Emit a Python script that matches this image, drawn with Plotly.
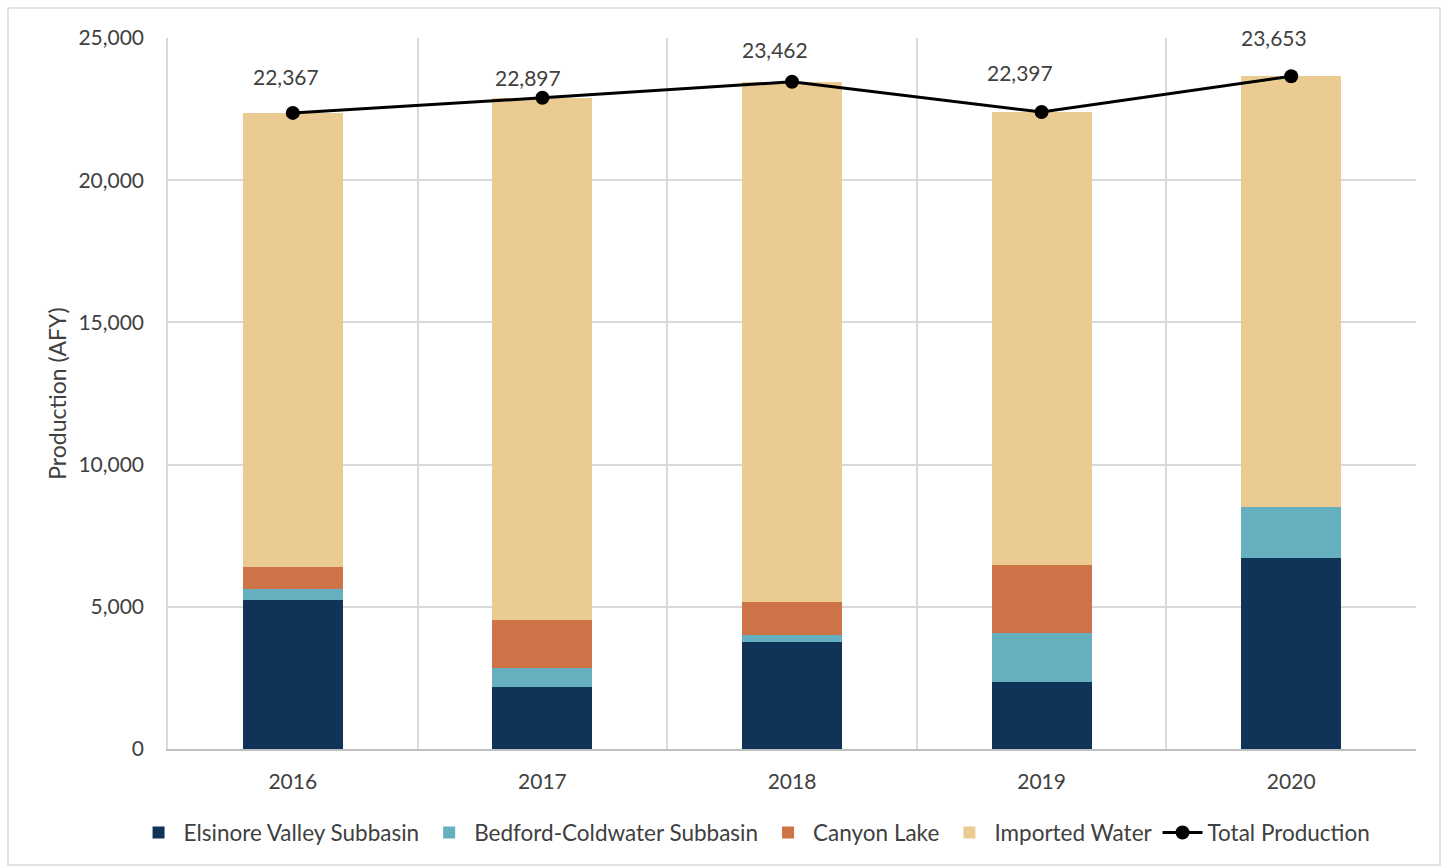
import plotly.graph_objects as go

years = ["2016", "2017", "2018", "2019", "2020"]
elsinore = [5240, 2180, 3770, 2356, 6726]
bedford = [375, 670, 240, 1712, 1794]
canyon = [795, 1700, 1160, 2400, 0]
total = [22367, 22897, 23462, 22397, 23653]
imported = [t - e - b - c for t, e, b, c in zip(total, elsinore, bedford, canyon)]

# label placement offsets (pixels) to mimic the original label layout
label_dx = [-7, -14, -17, -22, -17]
label_dy = [36, 20, 32, 40, 39]

FONT = "Lato, Carlito, Calibri, sans-serif"
TXT = "#404040"

fig = go.Figure()
for name, vals, col in [
    ("Elsinore Valley Subbasin", elsinore, "#0F3457"),
    ("Bedford-Coldwater Subbasin", bedford, "#66AFBF"),
    ("Canyon Lake", canyon, "#CE7347"),
    ("Imported Water", imported, "#EACB91"),
]:
    fig.add_trace(go.Bar(x=years, y=vals, name=name, marker=dict(color=col, line=dict(width=0)),
                         width=0.4))

fig.add_trace(go.Scatter(x=years, y=total, name="Total Production", mode="lines+markers",
                         line=dict(color="black", width=3),
                         marker=dict(color="black", size=14)))

for i, t in enumerate(total):
    fig.add_annotation(x=i, y=t, text=f"{t:,}", showarrow=False,
                       xshift=label_dx[i], yshift=label_dy[i],
                       font=dict(family=FONT, size=21, color=TXT))

fig.update_layout(
    width=1448, height=867,
    barmode="stack",
    paper_bgcolor="white", plot_bgcolor="white",
    margin=dict(l=168, r=32, t=38, b=118),
    font=dict(family=FONT, size=21, color=TXT),
    showlegend=True,
    legend=dict(orientation="h", x=0.47, xanchor="center", y=-0.118, yanchor="middle",
                font=dict(family=FONT, size=22.5, color=TXT), traceorder="normal",
                itemwidth=40, tracegroupgap=0),
    xaxis=dict(type="category", categoryorder="array", categoryarray=years,
               range=[-0.5, len(years) - 0.5], tickangle=0,
               tickson="boundaries", showgrid=True, gridcolor="#D9D9D9",
               gridwidth=1.5, ticks="", showline=True, linecolor="#BFBFBF", linewidth=1.5,
               ticklabelstandoff=13, tickfont=dict(size=21, color=TXT)),
    yaxis=dict(range=[0, 25000], dtick=5000, tickformat=",", showgrid=True,
               gridcolor="#D9D9D9", gridwidth=1.5, zeroline=False,
               showline=True, linecolor="#D9D9D9", linewidth=1.5,
               ticks="", ticklabelstandoff=18,
               title=dict(text="Production (AFY)", font=dict(size=23, color=TXT), standoff=5),
               tickfont=dict(size=21, color=TXT)),
)

fig.add_shape(type="rect", xref="paper", yref="paper",
              x0=-160/1248, x1=1+24/1248, y0=-116/711, y1=1+30/711,
              line=dict(color="#D9D9D9", width=1.5), fillcolor="rgba(0,0,0,0)", layer="below")

fig.write_html("out.html")
